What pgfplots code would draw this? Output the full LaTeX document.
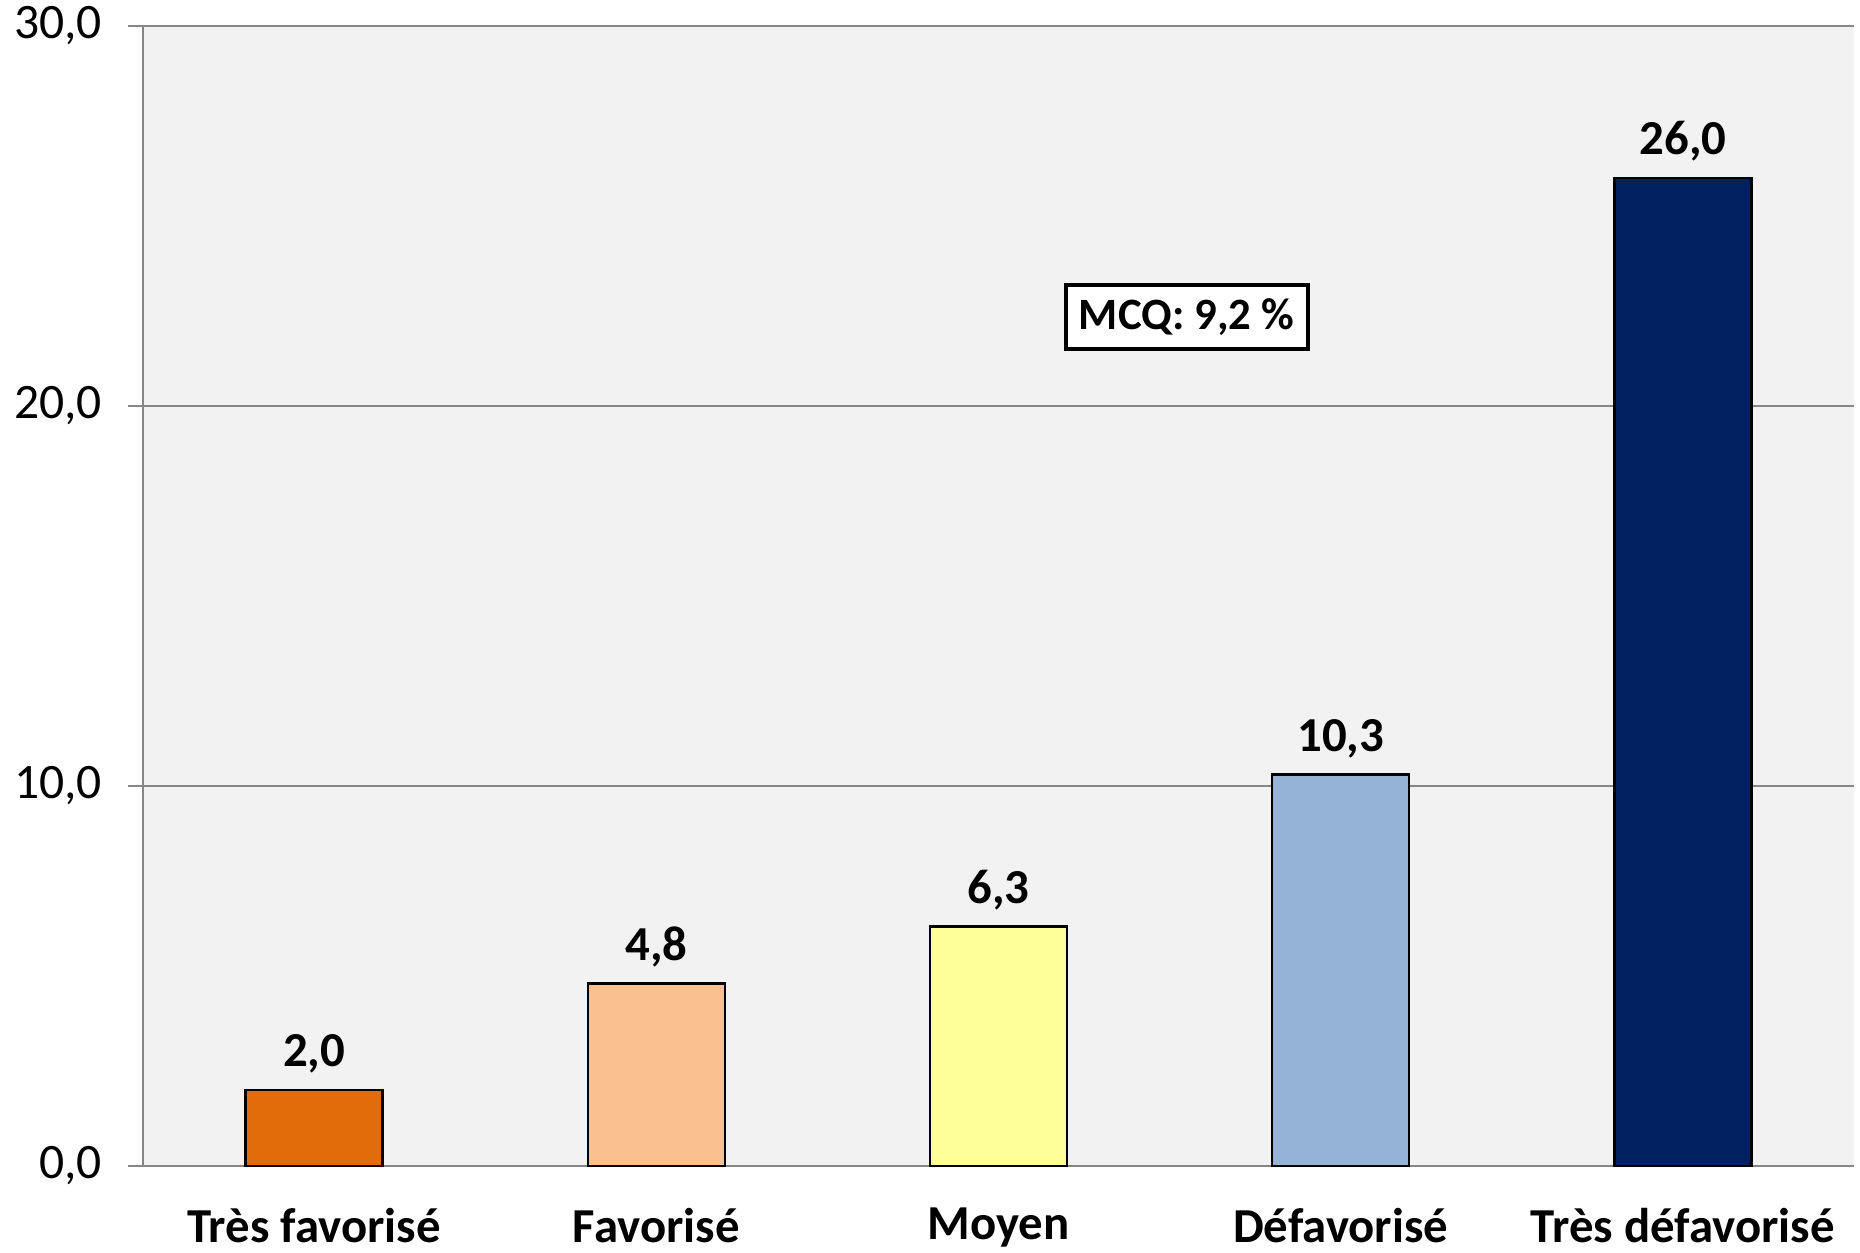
\documentclass[border=0pt]{standalone}
\usepackage{pgfplots}
\pgfplotsset{compat=1.18}
\usepackage{fontspec}
\setmainfont{Carlito}
\definecolor{c1}{HTML}{E36C0A}
\definecolor{c2}{HTML}{FAC090}
\definecolor{c3}{HTML}{FFFF99}
\definecolor{c4}{HTML}{95B3D7}
\definecolor{c5}{HTML}{002060}
\definecolor{bg}{HTML}{F2F2F2}
\definecolor{gridc}{HTML}{868686}
\begin{document}
\begin{tikzpicture}
\useasboundingbox (0,0) rectangle (465pt,313pt);
\begin{axis}[
  at={(35.75pt,21.5pt)}, anchor=south west,
  scale only axis, width=427.75pt, height=285pt,
  xmin=-0.5, xmax=4.5, ymin=0, ymax=30,
  axis x line*=bottom, axis y line*=left,
  axis line style={gridc, line width=0.6pt},
  axis background/.style={fill=bg},
  ytick={0,10,20,30},
  yticklabels={{0,0},{10,0},{20,0},{30,0}},
  ymajorgrids, major grid style={gridc, line width=0.6pt},
  tick align=outside, major tick length=3.75pt,
  tick style={gridc, line width=0.6pt},
  yticklabel style={font=\fontsize{12.4}{14}\selectfont, xshift=-3pt},
  xtick={0,1,2,3,4},
  xticklabels={Très favorisé, Favorisé, Moyen, Défavorisé, Très défavorisé},
  xticklabel style={font=\fontsize{12.2}{14}\selectfont\bfseries, yshift=-5.5pt, inner sep=1pt},
  xtick style={draw=none},
  extra x ticks={-0.5,0.5,1.5,2.5,3.5,4.5},
  extra x tick labels={},
  extra x tick style={tick style={draw=gridc, line width=0.6pt}, major tick length=3.75pt, grid=none},
  ybar, bar width=0.4, bar shift=0pt,
  nodes near coords={\pgfmathprintnumber[fixed, fixed zerofill, precision=1, use comma]{\pgfplotspointmeta}},
  nodes near coords style={font=\fontsize{12.2}{14}\selectfont\bfseries, yshift=0.5pt},
  /pgf/number format/assume math mode=true,
  clip=false,
]
\addplot[fill=c1, draw=black, line width=0.6pt] coordinates {(0,2.0)};
\addplot[fill=c2, draw=black, line width=0.6pt] coordinates {(1,4.8)};
\addplot[fill=c3, draw=black, line width=0.6pt] coordinates {(2,6.3)};
\addplot[fill=c4, draw=black, line width=0.6pt] coordinates {(3,10.3)};
\addplot[fill=c5, draw=black, line width=0.6pt] coordinates {(4,26.0)};
\node[draw=black, line width=0.9pt, fill=white, font=\fontsize{11.2}{13}\selectfont\bfseries, minimum width=60.5pt, minimum height=16pt, inner sep=2pt] at (axis cs:2.55,22.34) {MCQ: 9,2 \%};
\end{axis}
\end{tikzpicture}
\end{document}
